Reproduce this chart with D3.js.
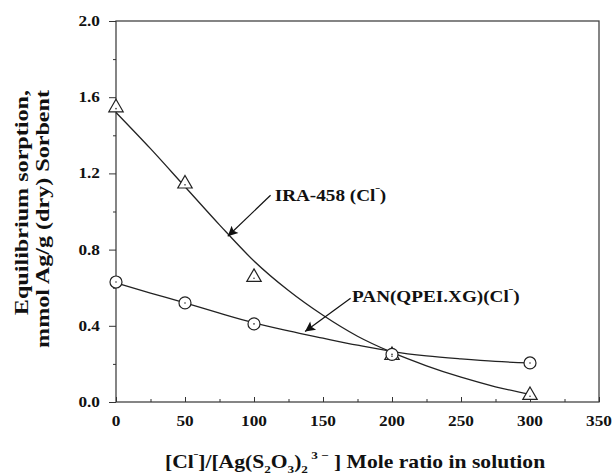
<!DOCTYPE html>
<html>
<head>
<meta charset="utf-8">
<script src="https://cdn.jsdelivr.net/npm/d3@7"></script>
<style>
  body { margin: 0; background: #fff; }
  text { font-family: "Liberation Serif", "Times New Roman", serif; font-weight: bold; fill: #111; }
</style>
</head>
<body>
<svg width="614" height="475"></svg>
<script>
// measured points
var ratio = [0, 50, 100, 200, 300];
var ira = [1.54, 1.14, 0.65, 0.24, 0.03];
var pan = [0.63, 0.52, 0.41, 0.25, 0.205];

// fitted curves
var fitX = [0, 25, 50, 75, 100, 125, 150, 175, 200, 225, 250, 275, 300];
var iraFit = [1.52, 1.33, 1.13, 0.93, 0.74, 0.585, 0.455, 0.345, 0.26, 0.19, 0.13, 0.08, 0.04];
var panFit = [0.625, 0.572, 0.52, 0.466, 0.415, 0.373, 0.335, 0.298, 0.265, 0.242, 0.226, 0.213, 0.205];

var xTicks = [0, 50, 100, 150, 200, 250, 300, 350];
var yTicks = [0.0, 0.4, 0.8, 1.2, 1.6, 2.0];

var svg = d3.select("svg");
var pl = 116, pr = 599, pt = 21, pb = 402;

var x = d3.scaleLinear().domain([0, 350]).range([pl, pr]);
var y = d3.scaleLinear().domain([0, 2.0]).range([pb, pt]);

// the original typeface is wider than Liberation Serif, so stretch text sideways
function wideText(px, py, sx, rot) {
  return svg.append("g")
    .attr("transform", "translate(" + px + "," + py + ")" + (rot ? " rotate(" + rot + ")" : "") + " scale(" + sx + ",1)")
    .append("text");
}

// frame
svg.append("rect")
  .attr("x", pl).attr("y", pt)
  .attr("width", pr - pl).attr("height", pb - pt)
  .attr("fill", "none").attr("stroke", "#444").attr("stroke-width", 1.3);

// x axis: ticks point inward
var xAxis = svg.append("g").attr("transform", "translate(0," + pb + ")");
xAxis.call(d3.axisBottom(x).tickValues(d3.range(0, 351, 25)).tickSize(-5).tickFormat(""));
xAxis.selectAll(".tick line")
  .attr("y2", function(d) { return d % 50 === 0 ? -5 : -3; })
  .attr("stroke", "#333");
xAxis.select(".domain").remove();
xTicks.forEach(function(d) {
  wideText(x(d), pb + 24, 1.15)
    .attr("text-anchor", "middle")
    .attr("font-size", 15)
    .text(d);
});

// y axis: ticks point outward
var yAxis = svg.append("g").attr("transform", "translate(" + pl + ",0)");
yAxis.call(d3.axisLeft(y).tickValues(d3.range(0, 11).map(function(i) { return i * 0.2; })).tickFormat(""));
yAxis.selectAll(".tick line")
  .attr("x2", function(d, i) { return i % 2 === 0 ? -7 : -3; })
  .attr("stroke", "#333");
yAxis.select(".domain").remove();
yTicks.forEach(function(d) {
  wideText(pl - 16, y(d) + 5, 1.15)
    .attr("text-anchor", "end")
    .attr("font-size", 15)
    .text(d.toFixed(1));
});

// axis titles
wideText(28, 90, 1.27, -90)
  .attr("text-anchor", "end")
  .attr("font-size", 19)
  .text("Equilibrium sorption,");
wideText(49, 90, 1.27, -90)
  .attr("text-anchor", "end")
  .attr("font-size", 19)
  .text("mmol  Ag/g (dry) Sorbent");

var xt = wideText(165, 468, 1.2).attr("font-size", 18);
xt.append("tspan").text("[Cl");
xt.append("tspan").attr("font-size", 11).attr("dy", -7).text("\u02C9");
xt.append("tspan").attr("dy", 7).text("]/[Ag(S");
xt.append("tspan").attr("font-size", 11).attr("dy", 5).text("2");
xt.append("tspan").attr("dy", -5).text("O");
xt.append("tspan").attr("font-size", 11).attr("dy", 5).text("3");
xt.append("tspan").attr("dy", -5).text(")");
xt.append("tspan").attr("font-size", 11).attr("dy", 5).text("2");
xt.append("tspan").attr("font-size", 11).attr("dy", -14).text(" 3 \u2212");
xt.append("tspan").attr("dy", 9).text(" ]  Mole ratio in solution");

// fitted curves
var line = d3.line()
  .x(function(d) { return x(d[0]); })
  .y(function(d) { return y(d[1]); })
  .curve(d3.curveMonotoneX);

svg.append("path")
  .datum(d3.zip(fitX, iraFit))
  .attr("d", line)
  .attr("fill", "none").attr("stroke", "#222").attr("stroke-width", 1.3);
svg.append("path")
  .datum(d3.zip(fitX, panFit))
  .attr("d", line)
  .attr("fill", "none").attr("stroke", "#222").attr("stroke-width", 1.3);

// markers
var tri = d3.symbol().type(d3.symbolTriangle).size(90);
svg.append("g").selectAll("path").data(d3.zip(ratio, ira)).enter().append("path")
  .attr("d", tri)
  .attr("transform", function(d) { return "translate(" + x(d[0]) + "," + (y(d[1]) - 1) + ")"; })
  .attr("fill", "#fff").attr("stroke", "#222").attr("stroke-width", 1.2);
svg.append("g").selectAll("circle").data(d3.zip(ratio, pan)).enter().append("circle")
  .attr("cx", function(d) { return x(d[0]); })
  .attr("cy", function(d) { return y(d[1]); })
  .attr("r", 6)
  .attr("fill", "#fff").attr("stroke", "#222").attr("stroke-width", 1.2);
svg.append("g").selectAll("circle").data(d3.zip(ratio, ira).concat(d3.zip(ratio, pan))).enter().append("circle")
  .attr("cx", function(d) { return x(d[0]); })
  .attr("cy", function(d) { return y(d[1]); })
  .attr("r", 0.8).attr("fill", "#333");

// annotations with arrows
svg.append("defs").append("marker")
  .attr("id", "head").attr("viewBox", "0 0 10 10")
  .attr("refX", 10).attr("refY", 5)
  .attr("markerWidth", 14).attr("markerHeight", 10)
  .attr("markerUnits", "userSpaceOnUse")
  .attr("orient", "auto")
  .append("path").attr("d", "M0,0 L10,5 L0,10 L2,5 Z").attr("fill", "#111");

var notes = [
  { from: [112, 1.085], to: [81, 0.87], at: [115, 1.055], label: "IRA-458 (Cl" },
  { from: [170, 0.545], to: [137, 0.37], at: [171, 0.525], label: "PAN(QPEI.XG)(Cl" }
];
notes.forEach(function(n) {
  svg.append("line")
    .attr("x1", x(n.from[0])).attr("y1", y(n.from[1]))
    .attr("x2", x(n.to[0])).attr("y2", y(n.to[1]))
    .attr("stroke", "#111").attr("stroke-width", 1.2)
    .attr("marker-end", "url(#head)");
  var t = wideText(x(n.at[0]), y(n.at[1]), 1.2).attr("font-size", 16);
  t.append("tspan").text(n.label);
  t.append("tspan").attr("font-size", 11).attr("dy", -6).text("\u02C9");
  t.append("tspan").attr("dy", 6).text(")");
});
</script>
</body>
</html>
